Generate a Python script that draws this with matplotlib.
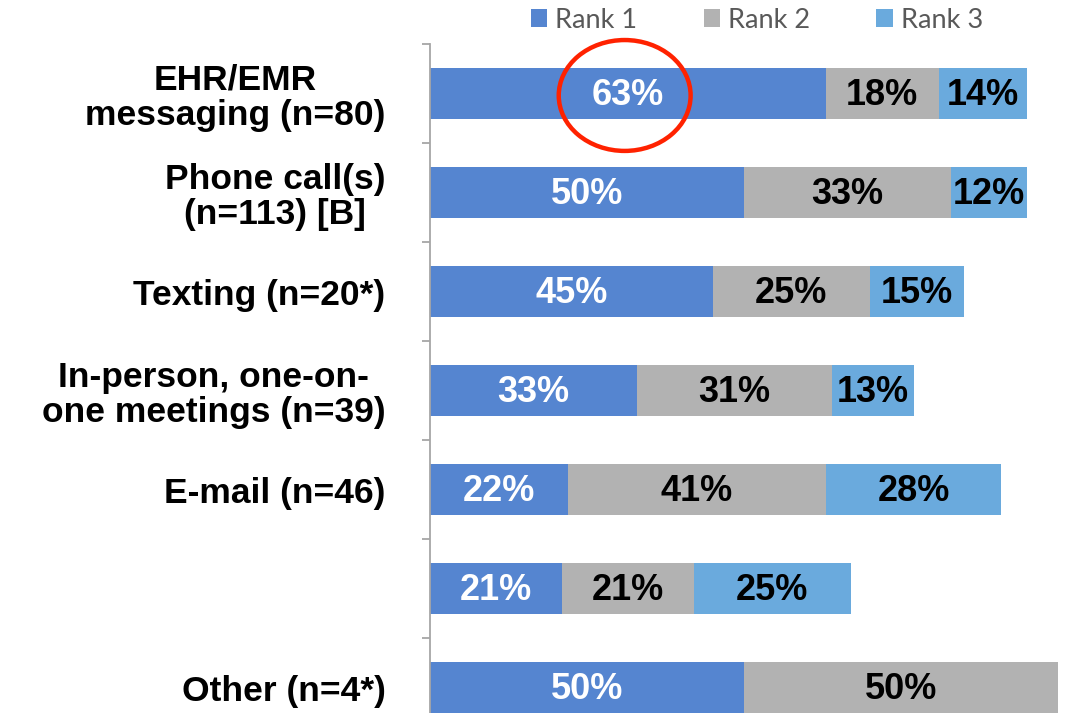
import matplotlib
matplotlib.use("Agg")
import matplotlib.pyplot as plt
from matplotlib.patches import Ellipse
import numpy as np

categories = [
    "EHR/EMR\nmessaging (n=80)",
    "Phone call(s)\n(n=113) [B]",
    "Texting (n=20*)",
    "In-person, one-on-\none meetings (n=39)",
    "E-mail (n=46)",
    "",
    "Other (n=4*)",
]
rank1 = [63, 50, 45, 33, 22, 21, 50]
rank2 = [18, 33, 25, 31, 41, 21, 50]
rank3 = [14, 12, 15, 13, 28, 25, 0]
series_names = ["Rank 1", "Rank 2", "Rank 3"]
colors = ["#5585D0", "#B2B2B2", "#6AAADD"]
label_colors = ["white", "black", "black"]

W, H = 1069, 713
fig = plt.figure(figsize=(W / 100, H / 100), dpi=100)
ax = fig.add_axes([430 / W, -24 / H, 628 / W, 693 / H])

y = np.arange(len(categories))
left = np.zeros(len(categories))
bar_h = 0.525
for vals, name, col, lc in zip([rank1, rank2, rank3], series_names, colors, label_colors):
    vals = np.array(vals, dtype=float)
    ax.barh(y, vals, left=left, height=bar_h, color=col, label=name,
            edgecolor="none")
    for yi, v, l in zip(y, vals, left):
        if v > 0:
            ax.text(l + v / 2, yi + 0.02, f"{int(v)}%", ha="center", va="center",
                    color=lc, fontsize=26, fontweight="bold",
                    family="Liberation Sans")
    left = left + vals

ax.set_xlim(0, 100)
ax.set_ylim(len(categories) - 0.5, -0.5)

# spines
for s in ["top", "right", "bottom"]:
    ax.spines[s].set_visible(False)
ax.spines["left"].set_color("#A6A6A6")
ax.spines["left"].set_linewidth(1.3)
ax.set_xticks([])

ax.set_yticks(y)
ax.set_yticklabels(categories, fontsize=25.5, fontweight="bold",
                   family="Liberation Sans", color="black")
for t in ax.get_yticklabels():
    t.set_multialignment("center")
    t.set_linespacing(1.08)
ax.tick_params(axis="y", which="major", length=0, pad=32)
ax.set_yticks(np.arange(-0.5, len(categories) + 0.5, 1), minor=True)
ax.tick_params(axis="y", which="minor", length=6, width=1.3, color="#A6A6A6",
               direction="out")

# red circle highlight around first rank-1 label
ell = Ellipse((rank1[0] / 2 - 0.5, 0.02), width=21, height=1.12, fill=False,
              edgecolor="#FF2200", linewidth=3.2, clip_on=False, zorder=5)
ax.add_patch(ell)

leg = fig.legend(loc="center", bbox_to_anchor=(757 / W, 1 - 20 / H), ncol=3,
                 frameon=False, prop={"family": "Lato", "size": 19.5},
                 handlelength=0.6, handleheight=0.6, handletextpad=0.3,
                 columnspacing=2.45, borderaxespad=0, borderpad=0)
for t in leg.get_texts():
    t.set_color("#595959")

fig.savefig("out.png", dpi=100)
